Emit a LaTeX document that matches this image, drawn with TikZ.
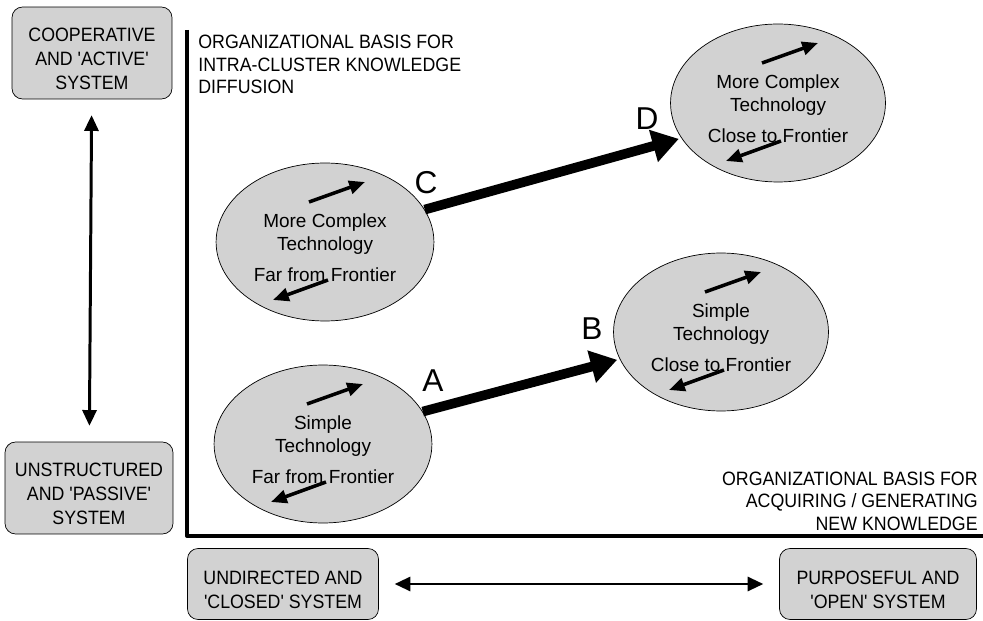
\documentclass[tikz,border=0pt]{standalone}
\usepackage{fontspec}
\setmainfont{Liberation Sans}
\newfontfamily\capsfont[FakeStretch=0.92]{Liberation Sans}
\usetikzlibrary{shapes.geometric,arrows.meta}
\newcommand\topgap{\rule{0pt}{14.5pt}}
\tikzset{
  sysbox/.style={draw, rounded corners=6pt, fill=gray!35, align=center, font=\capsfont\fontsize{11}{13.5}\selectfont},
  techell/.style={draw, ellipse, fill=gray!35, align=center, minimum width=4.28cm, minimum height=3.16cm, font=\fontsize{10.8}{13}\selectfont},
  stagearr/.style={line width=5.5pt, -{Triangle[length=15pt,width=18pt]}, shorten >=1.5pt},
  turnarr/.style={line width=2pt, -{Triangle[length=9pt,width=7.5pt]}},
  dblarr/.style={line width=1.7pt, {Triangle[length=9pt,width=8pt]}-{Triangle[length=9pt,width=8pt]}, shorten <=9pt, shorten >=9pt},
  stagelbl/.style={font=\fontsize{18}{18}\selectfont},
  axistext/.style={inner sep=0pt, font=\capsfont\fontsize{11}{12.8}\selectfont}
}
\begin{document}
\begin{tikzpicture}[x=0.02cm,y=-0.02cm,line join=round]
    \useasboundingbox (0,0) rectangle (983,621);
    % axes
    \draw[line width=2.2pt] (187,30) |- (983,536);
    \node[axistext, anchor=north west, align=left] (yname) at (198,35)
        {ORGANIZATIONAL BASIS FOR\\INTRA-CLUSTER KNOWLEDGE\\DIFFUSION};
    \node[axistext, anchor=south east, align=right] (xname) at (978,531)
        {ORGANIZATIONAL BASIS FOR\\ACQUIRING / GENERATING\\NEW KNOWLEDGE};
    % system boxes
    \node[sysbox, minimum width=3.2cm, minimum height=1.84cm] (coop) at (92,53) {\topgap COOPERATIVE\\AND 'ACTIVE'\\SYSTEM};
    \node[sysbox, minimum width=3.36cm, minimum height=1.84cm] (unstr) at (89,488) {\topgap UNSTRUCTURED\\AND 'PASSIVE'\\SYSTEM};
    \node[sysbox, minimum width=3.82cm, minimum height=1.42cm] (undir) at (283,584) {\topgap UNDIRECTED AND\\'CLOSED' SYSTEM};
    \node[sysbox, minimum width=3.94cm, minimum height=1.42cm] (purp) at (878,584) {\topgap PURPOSEFUL AND\\'OPEN' SYSTEM};
    \draw[dblarr] (coop) -- (unstr);
    \draw[dblarr] (undir) -- (purp);
    % technology stages
    \node[techell] (An) at (323,444) {\topgap Simple\\Technology\\[5pt]Far from Frontier};
    \node[techell] (Bn) at (721,332) {\topgap Simple\\Technology\\[5pt]Close to Frontier};
    \node[techell] (Cn) at (325,242) {\topgap More Complex\\Technology\\[5pt]Far from Frontier};
    \node[techell] (Dn) at (778,103) {\topgap More Complex\\Technology\\[5pt]Close to Frontier};
    \foreach \e in {An,Bn,Cn,Dn}{
        \draw[turnarr] ([shift={(-16,-40)}]\e.center) -- ([shift={(40,-60)}]\e.center);
        \draw[turnarr] ([shift={(3,38)}]\e.center) -- ([shift={(-52,58)}]\e.center);
    }
    \draw[stagearr] (An.18) -- (Bn.195);
    \draw[stagearr] (Cn.18) -- (Dn.200);
    \node[stagelbl] (labA) at (433,381) {A};
    \node[stagelbl] (labB) at (592,329) {B};
    \node[stagelbl] (labC) at (426,183) {C};
    \node[stagelbl] (labD) at (647,119) {D};
\end{tikzpicture}
\end{document}
